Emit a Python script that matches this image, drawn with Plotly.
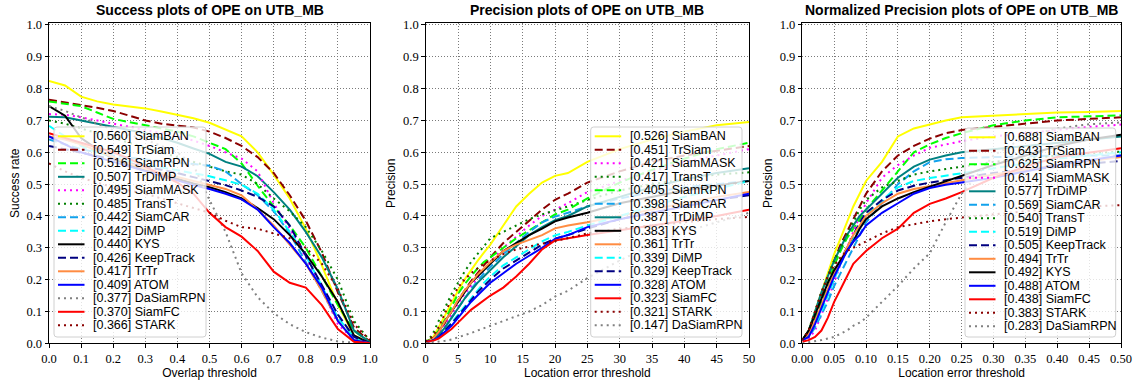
import plotly.graph_objects as go

W, H = 1141, 385

# ---------------- Success plot data ----------------
SUCCESS_X = [0.0, 0.05, 0.1, 0.15, 0.2, 0.25, 0.3, 0.35, 0.4, 0.45, 0.5,
             0.55, 0.6, 0.65, 0.7, 0.75, 0.8, 0.85, 0.9, 0.95, 1.0]
S_SiamBAN = [0.824, 0.810, 0.775, 0.760, 0.750, 0.743, 0.738, 0.728, 0.717, 0.707, 0.693, 0.672, 0.650, 0.600, 0.530, 0.455, 0.360, 0.245, 0.120, 0.025, 0.0]
S_TrSiam = [0.765, 0.757, 0.748, 0.740, 0.730, 0.715, 0.700, 0.690, 0.684, 0.678, 0.665, 0.645, 0.620, 0.585, 0.535, 0.465, 0.385, 0.285, 0.160, 0.050, 0.005]
S_SiamRPN = [0.760, 0.752, 0.745, 0.725, 0.705, 0.695, 0.685, 0.675, 0.665, 0.650, 0.630, 0.610, 0.565, 0.495, 0.430, 0.370, 0.300, 0.210, 0.120, 0.040, 0.003]
S_TrDiMP = [0.712, 0.710, 0.700, 0.690, 0.680, 0.670, 0.660, 0.645, 0.630, 0.612, 0.595, 0.570, 0.555, 0.525, 0.475, 0.420, 0.350, 0.270, 0.170, 0.040, 0.003]
S_SiamMASK = [0.720, 0.718, 0.710, 0.700, 0.690, 0.680, 0.670, 0.660, 0.650, 0.637, 0.620, 0.600, 0.580, 0.540, 0.440, 0.360, 0.270, 0.170, 0.060, 0.010, 0.0]
S_TransT = [0.700, 0.690, 0.675, 0.660, 0.645, 0.630, 0.615, 0.600, 0.585, 0.570, 0.555, 0.540, 0.530, 0.500, 0.455, 0.415, 0.365, 0.290, 0.200, 0.070, 0.008]
S_SiamCAR = [0.640, 0.625, 0.610, 0.600, 0.590, 0.583, 0.577, 0.572, 0.567, 0.563, 0.558, 0.540, 0.500, 0.465, 0.415, 0.345, 0.255, 0.165, 0.070, 0.015, 0.0]
S_DiMP = [0.683, 0.650, 0.620, 0.600, 0.585, 0.572, 0.562, 0.553, 0.545, 0.535, 0.525, 0.512, 0.498, 0.470, 0.420, 0.350, 0.275, 0.180, 0.080, 0.020, 0.0]
S_KYS = [0.745, 0.715, 0.645, 0.610, 0.580, 0.560, 0.545, 0.530, 0.515, 0.502, 0.490, 0.475, 0.455, 0.425, 0.390, 0.340, 0.280, 0.210, 0.130, 0.025, 0.0]
S_KeepTrack = [0.620, 0.610, 0.600, 0.590, 0.578, 0.565, 0.555, 0.545, 0.535, 0.522, 0.510, 0.497, 0.480, 0.460, 0.430, 0.370, 0.275, 0.180, 0.090, 0.020, 0.0]
S_TrTr = [0.650, 0.640, 0.625, 0.605, 0.585, 0.565, 0.548, 0.535, 0.522, 0.510, 0.498, 0.485, 0.465, 0.420, 0.370, 0.310, 0.250, 0.165, 0.070, 0.010, 0.0]
S_ATOM = [0.650, 0.625, 0.600, 0.585, 0.570, 0.555, 0.540, 0.525, 0.510, 0.497, 0.485, 0.470, 0.452, 0.420, 0.365, 0.315, 0.250, 0.175, 0.070, 0.010, 0.0]
S_DaSiamRPN = [0.745, 0.730, 0.710, 0.690, 0.670, 0.655, 0.640, 0.620, 0.600, 0.560, 0.450, 0.350, 0.220, 0.145, 0.095, 0.060, 0.035, 0.018, 0.006, 0.002, 0.0]
S_SiamFC = [0.660, 0.645, 0.630, 0.615, 0.600, 0.580, 0.555, 0.530, 0.505, 0.470, 0.410, 0.365, 0.335, 0.290, 0.225, 0.190, 0.175, 0.120, 0.045, 0.005, 0.0]
S_STARK = [0.565, 0.540, 0.520, 0.505, 0.490, 0.480, 0.470, 0.455, 0.440, 0.425, 0.410, 0.385, 0.365, 0.360, 0.345, 0.330, 0.300, 0.250, 0.170, 0.060, 0.010]

SUCCESS_NAMES = ["SiamBAN", "TrSiam", "SiamRPN", "TrDiMP", "SiamMASK", "TransT", "SiamCAR", "DiMP",
                 "KYS", "KeepTrack", "TrTr", "ATOM", "DaSiamRPN", "SiamFC", "STARK"]
SUCCESS_SCORES = [0.560, 0.549, 0.516, 0.507, 0.495, 0.485, 0.442, 0.442, 0.440, 0.426, 0.417, 0.409, 0.377, 0.370, 0.366]
SUCCESS_VALUES = [S_SiamBAN, S_TrSiam, S_SiamRPN, S_TrDiMP, S_SiamMASK, S_TransT, S_SiamCAR, S_DiMP,
                  S_KYS, S_KeepTrack, S_TrTr, S_ATOM, S_DaSiamRPN, S_SiamFC, S_STARK]

# ---------------- Precision plot data ----------------
PREC_X = [0, 1, 2, 3, 4, 5, 6, 7, 8, 9, 10, 12, 14, 16, 18, 20, 22, 25, 30, 35, 40, 45, 50]
P_SiamBAN = [0.005, 0.015, 0.05, 0.09, 0.13, 0.165, 0.20, 0.23, 0.258, 0.285, 0.31, 0.37, 0.43, 0.47, 0.505, 0.526, 0.535, 0.57, 0.61, 0.64, 0.665, 0.685, 0.695]
P_TrSiam = [0.005, 0.012, 0.035, 0.065, 0.10, 0.135, 0.165, 0.195, 0.22, 0.245, 0.27, 0.315, 0.35, 0.385, 0.42, 0.451, 0.47, 0.505, 0.54, 0.57, 0.59, 0.605, 0.62]
P_SiamMASK = [0.005, 0.012, 0.03, 0.06, 0.09, 0.125, 0.155, 0.18, 0.205, 0.23, 0.255, 0.30, 0.335, 0.37, 0.40, 0.421, 0.44, 0.475, 0.51, 0.54, 0.57, 0.59, 0.61]
P_TransT = [0.005, 0.025, 0.07, 0.115, 0.155, 0.19, 0.225, 0.255, 0.28, 0.305, 0.33, 0.35, 0.37, 0.39, 0.405, 0.417, 0.43, 0.45, 0.48, 0.50, 0.515, 0.53, 0.537]
P_SiamRPN = [0.005, 0.015, 0.04, 0.075, 0.115, 0.155, 0.185, 0.21, 0.235, 0.255, 0.27, 0.30, 0.33, 0.355, 0.38, 0.405, 0.42, 0.455, 0.505, 0.545, 0.58, 0.61, 0.63]
P_SiamCAR = [0.005, 0.01, 0.025, 0.05, 0.08, 0.11, 0.14, 0.17, 0.195, 0.22, 0.24, 0.28, 0.315, 0.35, 0.38, 0.398, 0.41, 0.43, 0.455, 0.475, 0.49, 0.50, 0.51]
P_TrDiMP = [0.005, 0.01, 0.025, 0.05, 0.08, 0.11, 0.14, 0.165, 0.19, 0.21, 0.23, 0.27, 0.305, 0.34, 0.365, 0.387, 0.40, 0.43, 0.46, 0.49, 0.515, 0.535, 0.55]
P_KYS = [0.005, 0.012, 0.035, 0.07, 0.10, 0.13, 0.16, 0.19, 0.21, 0.23, 0.25, 0.29, 0.315, 0.34, 0.36, 0.383, 0.395, 0.41, 0.44, 0.46, 0.48, 0.495, 0.51]
P_TrTr = [0.005, 0.012, 0.035, 0.07, 0.10, 0.135, 0.165, 0.19, 0.215, 0.235, 0.255, 0.29, 0.31, 0.325, 0.34, 0.361, 0.37, 0.38, 0.40, 0.42, 0.44, 0.46, 0.475]
P_DiMP = [0.005, 0.008, 0.02, 0.04, 0.065, 0.09, 0.115, 0.14, 0.165, 0.19, 0.21, 0.245, 0.27, 0.295, 0.32, 0.339, 0.35, 0.37, 0.40, 0.43, 0.46, 0.485, 0.51]
P_KeepTrack = [0.005, 0.008, 0.02, 0.04, 0.062, 0.085, 0.11, 0.135, 0.16, 0.18, 0.20, 0.235, 0.26, 0.285, 0.31, 0.329, 0.34, 0.36, 0.39, 0.41, 0.43, 0.45, 0.465]
P_ATOM = [0.005, 0.008, 0.018, 0.035, 0.055, 0.08, 0.105, 0.13, 0.15, 0.17, 0.19, 0.22, 0.25, 0.275, 0.30, 0.328, 0.34, 0.365, 0.39, 0.41, 0.43, 0.45, 0.47]
P_SiamFC = [0.005, 0.007, 0.015, 0.03, 0.045, 0.065, 0.085, 0.105, 0.12, 0.135, 0.15, 0.175, 0.21, 0.25, 0.295, 0.323, 0.33, 0.34, 0.355, 0.37, 0.385, 0.40, 0.42]
P_STARK = [0.005, 0.02, 0.05, 0.095, 0.14, 0.175, 0.20, 0.22, 0.235, 0.25, 0.26, 0.28, 0.295, 0.305, 0.313, 0.321, 0.33, 0.345, 0.36, 0.37, 0.38, 0.39, 0.397]
P_DaSiamRPN = [0.0, 0.002, 0.005, 0.008, 0.012, 0.018, 0.025, 0.032, 0.04, 0.047, 0.055, 0.07, 0.085, 0.10, 0.12, 0.147, 0.165, 0.205, 0.26, 0.31, 0.35, 0.38, 0.41]

PREC_NAMES = ["SiamBAN", "TrSiam", "SiamMASK", "TransT", "SiamRPN", "SiamCAR", "TrDiMP", "KYS",
              "TrTr", "DiMP", "KeepTrack", "ATOM", "SiamFC", "STARK", "DaSiamRPN"]
PREC_SCORES = [0.526, 0.451, 0.421, 0.417, 0.405, 0.398, 0.387, 0.383, 0.361, 0.339, 0.329, 0.328, 0.323, 0.321, 0.147]
PREC_VALUES = [P_SiamBAN, P_TrSiam, P_SiamMASK, P_TransT, P_SiamRPN, P_SiamCAR, P_TrDiMP, P_KYS,
               P_TrTr, P_DiMP, P_KeepTrack, P_ATOM, P_SiamFC, P_STARK, P_DaSiamRPN]

# ---------------- Normalized precision plot data ----------------
NPREC_X = [0.0, 0.01, 0.02, 0.03, 0.04, 0.05, 0.06, 0.07, 0.08, 0.09, 0.1, 0.125, 0.15,
           0.175, 0.2, 0.225, 0.25, 0.3, 0.35, 0.4, 0.45, 0.5]
N_SiamBAN = [0.01, 0.04, 0.10, 0.16, 0.22, 0.28, 0.33, 0.38, 0.43, 0.47, 0.51, 0.57, 0.65, 0.675, 0.688, 0.70, 0.71, 0.715, 0.72, 0.725, 0.727, 0.73]
N_TrSiam = [0.01, 0.04, 0.09, 0.15, 0.21, 0.26, 0.31, 0.35, 0.39, 0.43, 0.47, 0.54, 0.59, 0.62, 0.643, 0.66, 0.67, 0.68, 0.69, 0.70, 0.705, 0.71]
N_SiamRPN = [0.01, 0.03, 0.08, 0.13, 0.19, 0.245, 0.29, 0.33, 0.36, 0.39, 0.42, 0.48, 0.54, 0.60, 0.625, 0.645, 0.66, 0.685, 0.70, 0.71, 0.713, 0.716]
N_SiamMASK = [0.01, 0.015, 0.04, 0.09, 0.14, 0.19, 0.25, 0.30, 0.35, 0.40, 0.44, 0.52, 0.56, 0.59, 0.614, 0.625, 0.635, 0.65, 0.66, 0.67, 0.68, 0.687]
N_TrDiMP = [0.01, 0.04, 0.10, 0.16, 0.21, 0.26, 0.30, 0.34, 0.37, 0.40, 0.42, 0.47, 0.52, 0.555, 0.577, 0.59, 0.60, 0.61, 0.62, 0.63, 0.64, 0.65]
N_SiamCAR = [0.01, 0.02, 0.05, 0.09, 0.13, 0.18, 0.22, 0.26, 0.30, 0.34, 0.38, 0.44, 0.50, 0.54, 0.569, 0.578, 0.582, 0.585, 0.588, 0.59, 0.59, 0.59]
N_TransT = [0.01, 0.04, 0.10, 0.16, 0.21, 0.26, 0.30, 0.34, 0.38, 0.42, 0.45, 0.49, 0.51, 0.53, 0.54, 0.548, 0.555, 0.57, 0.58, 0.59, 0.597, 0.602]
N_DiMP = [0.01, 0.025, 0.06, 0.10, 0.15, 0.20, 0.25, 0.29, 0.33, 0.37, 0.40, 0.45, 0.49, 0.51, 0.519, 0.527, 0.535, 0.55, 0.565, 0.58, 0.59, 0.60]
N_KeepTrack = [0.01, 0.03, 0.07, 0.12, 0.17, 0.22, 0.26, 0.30, 0.34, 0.38, 0.41, 0.45, 0.48, 0.495, 0.505, 0.513, 0.52, 0.535, 0.545, 0.555, 0.565, 0.573]
N_TrTr = [0.01, 0.03, 0.07, 0.12, 0.17, 0.22, 0.26, 0.30, 0.34, 0.37, 0.40, 0.44, 0.47, 0.485, 0.494, 0.502, 0.51, 0.53, 0.545, 0.56, 0.572, 0.585]
N_KYS = [0.01, 0.04, 0.09, 0.14, 0.19, 0.23, 0.26, 0.29, 0.32, 0.36, 0.39, 0.43, 0.455, 0.475, 0.492, 0.508, 0.525, 0.56, 0.59, 0.62, 0.64, 0.655]
N_ATOM = [0.01, 0.02, 0.06, 0.11, 0.16, 0.21, 0.25, 0.29, 0.32, 0.34, 0.37, 0.41, 0.44, 0.47, 0.488, 0.498, 0.505, 0.52, 0.54, 0.56, 0.575, 0.59]
N_SiamFC = [0.005, 0.01, 0.02, 0.04, 0.08, 0.13, 0.17, 0.21, 0.25, 0.27, 0.29, 0.33, 0.36, 0.41, 0.438, 0.455, 0.475, 0.52, 0.555, 0.585, 0.60, 0.613]
N_STARK = [0.01, 0.04, 0.10, 0.16, 0.21, 0.245, 0.27, 0.29, 0.30, 0.31, 0.32, 0.345, 0.365, 0.375, 0.383, 0.39, 0.395, 0.405, 0.415, 0.425, 0.43, 0.434]
N_DaSiamRPN = [0.0, 0.003, 0.006, 0.01, 0.015, 0.02, 0.03, 0.04, 0.055, 0.065, 0.08, 0.13, 0.18, 0.235, 0.283, 0.38, 0.47, 0.59, 0.65, 0.675, 0.688, 0.694]

NPREC_NAMES = ["SiamBAN", "TrSiam", "SiamRPN", "SiamMASK", "TrDiMP", "SiamCAR", "TransT", "DiMP",
               "KeepTrack", "TrTr", "KYS", "ATOM", "SiamFC", "STARK", "DaSiamRPN"]
NPREC_SCORES = [0.688, 0.643, 0.625, 0.614, 0.577, 0.569, 0.540, 0.519, 0.505, 0.494, 0.492, 0.488, 0.438, 0.383, 0.283]
NPREC_VALUES = [N_SiamBAN, N_TrSiam, N_SiamRPN, N_SiamMASK, N_TrDiMP, N_SiamCAR, N_TransT, N_DiMP,
                N_KeepTrack, N_TrTr, N_KYS, N_ATOM, N_SiamFC, N_STARK, N_DaSiamRPN]

# ---------------- styles ----------------
DASH = "8px,4px"
DOT = "2px,4px"
STYLE = {
    "SiamBAN": ("#ffff00", "solid"),
    "TrSiam": ("#8b0000", DASH),
    "SiamRPN": ("#00ff00", DASH),
    "TrDiMP": ("#008080", "solid"),
    "SiamMASK": ("#ff00ff", DOT),
    "TransT": ("#008000", DOT),
    "SiamCAR": ("#12a2ec", DASH),
    "DiMP": ("#00ffff", DASH),
    "KYS": ("#000000", "solid"),
    "KeepTrack": ("#000080", DASH),
    "TrTr": ("#ff8c42", "solid"),
    "ATOM": ("#0000ff", "solid"),
    "DaSiamRPN": ("#808080", DOT),
    "SiamFC": ("#ff0000", "solid"),
    "STARK": ("#8b0000", DOT),
}

def fx(px):
    return px / W

def fy(py):
    return 1 - py / H

Y_DOM = [fy(343.3), fy(23.3)]
PANELS = [
    dict(xs=SUCCESS_X, names=SUCCESS_NAMES, scores=SUCCESS_SCORES, vals=SUCCESS_VALUES,
         dom=(49, 370), xrange=[0, 1], dtick=0.1, fmt=".1f",
         title="Success plots of OPE on UTB_MB", xt="Overlap threshold", yt="Success rate",
         legbox=(54, 127, 206, 337)),
    dict(xs=PREC_X, names=PREC_NAMES, scores=PREC_SCORES, vals=PREC_VALUES,
         dom=(425.7, 749), xrange=[0, 50], dtick=5, fmt="d",
         title="Precision plots of OPE on UTB_MB", xt="Location error threshold", yt="Precision",
         legbox=(590.7, 127, 742, 337)),
    dict(xs=NPREC_X, names=NPREC_NAMES, scores=NPREC_SCORES, vals=NPREC_VALUES,
         dom=(802.3, 1121), xrange=[0, 0.5], dtick=0.05, fmt=".2f",
         title="Normalized Precision plots of OPE on UTB_MB", xt="Location error threshold", yt="Precision",
         legbox=(965, 128, 1115.7, 337)),
]

fig = go.Figure()
shapes = []
annotations = []
TICKFONT = dict(family="Liberation Serif", size=12.5, color="black")
LABELFONT = dict(family="Liberation Sans", size=12, color="black")
LEGFONT = dict(family="Liberation Sans", size=12.5, color="black")

for i, p in enumerate(PANELS):
    k = "" if i == 0 else str(i + 1)
    xa, ya = "x" + k, "y" + k
    for name, vals in zip(p["names"], p["vals"]):
        color, dash = STYLE[name]
        fig.add_trace(go.Scatter(x=p["xs"], y=vals, mode="lines", xaxis=xa, yaxis=ya,
                                 line=dict(color=color, width=2, dash=dash),
                                 showlegend=False, hoverinfo="skip"))
    axis_common = dict(showline=True, linecolor="black", linewidth=1, mirror=True,
                       ticks="outside", ticklen=3.5, tickwidth=1, tickcolor="black",
                       showgrid=True, gridcolor="#7a7a7a", griddash="1px,2px", gridwidth=1,
                       zeroline=False, automargin=False, tickfont=TICKFONT)
    fig.layout["xaxis" + k] = dict(axis_common, domain=[fx(p["dom"][0]), fx(p["dom"][1])],
                                   range=p["xrange"], tick0=0, dtick=p["dtick"], tickformat=p["fmt"],
                                   anchor=ya, title=dict(text=p["xt"], font=LABELFONT, standoff=3))
    fig.layout["yaxis" + k] = dict(axis_common, domain=Y_DOM, range=[0, 1.0053], tick0=0, dtick=0.1,
                                   tickformat=".1f", anchor=xa,
                                   title=dict(text=p["yt"], font=LABELFONT, standoff=4))
    # title
    annotations.append(dict(text="<b>" + p["title"] + "</b>", xref=xa + " domain", yref="paper",
                            x=0.5, y=fy(10.5), xanchor="center", yanchor="middle", showarrow=False,
                            font=dict(family="Liberation Sans", size=14, color="black")))
    # legend box (rounded)
    l, t, r, b = p["legbox"]
    rx, ry = 3 / W, 3 / H
    L, T, R, B = fx(l), fy(t), fx(r), fy(b)
    path = (f"M {L+rx},{T} L {R-rx},{T} Q {R},{T} {R},{T-ry} L {R},{B+ry} Q {R},{B} {R-rx},{B} "
            f"L {L+rx},{B} Q {L},{B} {L},{B+ry} L {L},{T-ry} Q {L},{T} {L+rx},{T} Z")
    shapes.append(dict(type="path", path=path, xref="paper", yref="paper", layer="above",
                       fillcolor="rgba(255,255,255,0.8)", line=dict(color="#d0d0d0", width=1)))
    for j, (name, score) in enumerate(zip(p["names"], p["scores"])):
        color, dash = STYLE[name]
        cy = t + 9.3 + j * 13.5
        shapes.append(dict(type="line", xref="paper", yref="paper", layer="above",
                           x0=fx(l + 4), x1=fx(l + 30.5), y0=fy(cy), y1=fy(cy),
                           line=dict(color=color, width=2, dash=dash)))
        annotations.append(dict(text=f"[{score:.3f}] {name}", xref="paper", yref="paper",
                                x=fx(l + 38), y=fy(cy), xanchor="left", yanchor="middle",
                                showarrow=False, borderpad=0, font=LEGFONT))

fig.update_layout(width=W, height=H, margin=dict(l=0, r=0, t=0, b=0),
                  paper_bgcolor="white", plot_bgcolor="white",
                  shapes=shapes, annotations=annotations, showlegend=False)
fig.write_html("out.html")
